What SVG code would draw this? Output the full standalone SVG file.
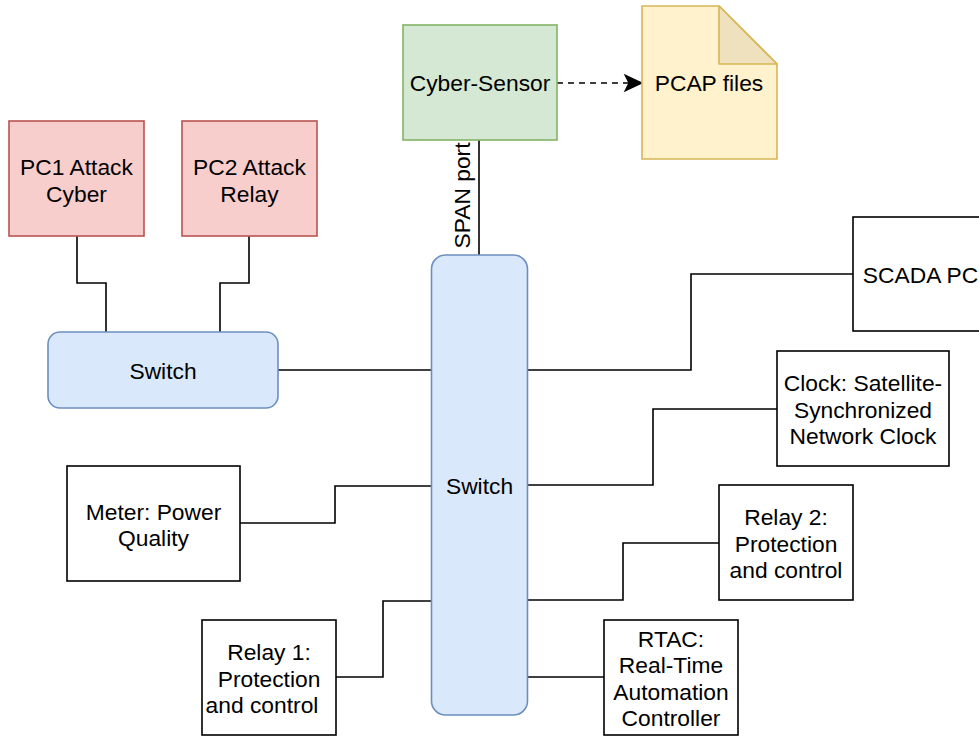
<svg xmlns="http://www.w3.org/2000/svg" width="979" height="737" viewBox="0 0 979 737">
<style>
text{font-family:"Liberation Sans",Arial,sans-serif;font-size:22.8px;fill:#000;text-anchor:middle}
.box{fill:#fff;stroke:#000;stroke-width:1.6}
.red{fill:#f8cecc;stroke:#b85450;stroke-width:1.6}
.green{fill:#d5e8d4;stroke:#82b366;stroke-width:1.6}
.blue{fill:#dae8fc;stroke:#6c8ebf;stroke-width:1.6}
.yellow{fill:#fff2cc;stroke:#d6b656;stroke-width:1.6}
.fold{fill:#efe1be;stroke:#d6b656;stroke-width:1.6;stroke-linejoin:round}
.line{fill:none;stroke:#000;stroke-width:1.6}
</style>
<rect width="979" height="737" fill="#fff"/>
<g id="connectors">
<path class="line" d="M77,236 V283 H106 V332"/>
<path class="line" d="M249,236 V283 H220 V332"/>
<path class="line" d="M278,370 H431"/>
<path class="line" d="M479,140 V255"/>
<path class="line" d="M528,370 H691 V274 H853"/>
<path class="line" d="M528,485 H653 V409 H777"/>
<path class="line" d="M240,523 H335 V486 H431"/>
<path class="line" d="M528,600 H623 V543 H719"/>
<path class="line" d="M336,677 H383 V601 H431"/>
<path class="line" d="M528,677 H604"/>
<path class="line" d="M557,83 H629" stroke-dasharray="6 5"/>
<path d="M642,83 L625,75 L629,83 L625,91 Z" fill="#000" stroke="#000" stroke-width="1.2" stroke-linejoin="miter"/>
<text transform="translate(470,195.5) rotate(-90)" x="0" y="0">SPAN port</text>
</g>
<g id="cyber-sensor">
<rect class="green" x="403" y="25" width="154" height="115"/>
<text x="480" y="91">Cyber-Sensor</text>
</g>
<g id="pcap-files">
<path class="yellow" d="M642,6 H719 L777,64 V159 H642 Z"/>
<path class="fold" d="M719,6 V64 H777 Z"/>
<text x="709" y="91">PCAP files</text>
</g>
<g id="pc1">
<rect class="red" x="9" y="121" width="135" height="115"/>
<text x="76.5" y="175">PC1 Attack</text>
<text x="76.5" y="201.5">Cyber</text>
</g>
<g id="pc2">
<rect class="red" x="182" y="121" width="135" height="115"/>
<text x="249.5" y="175">PC2 Attack</text>
<text x="249.5" y="201.5">Relay</text>
</g>
<g id="switch-small">
<rect class="blue" x="48" y="332" width="230" height="76" rx="12" ry="12"/>
<text x="163" y="379">Switch</text>
</g>
<g id="switch-main">
<rect class="blue" x="431.5" y="255" width="96" height="460" rx="14" ry="14"/>
<text x="479.5" y="494">Switch</text>
</g>
<g id="scada-pc">
<rect class="box" x="853" y="217" width="135" height="114"/>
<text x="920.5" y="283">SCADA PC</text>
</g>
<g id="clock">
<rect class="box" x="777" y="351" width="172" height="115"/>
<text x="863" y="391">Clock: Satellite-</text>
<text x="863" y="417.5">Synchronized</text>
<text x="863" y="444">Network Clock</text>
</g>
<g id="meter">
<rect class="box" x="67" y="466" width="173" height="115"/>
<text x="153.5" y="519.5">Meter: Power</text>
<text x="153.5" y="546">Quality</text>
</g>
<g id="relay2">
<rect class="box" x="719" y="485" width="134" height="115"/>
<text x="786" y="525">Relay 2:</text>
<text x="786" y="551.5">Protection</text>
<text x="786" y="578">and control</text>
</g>
<g id="relay1">
<rect class="box" x="202" y="620" width="134" height="115"/>
<text x="269" y="660">Relay 1:</text>
<text x="269" y="686.5">Protection</text>
<text x="262" y="713">and control</text>
</g>
<g id="rtac">
<rect class="box" x="604" y="620" width="134" height="115"/>
<text x="671" y="646.5">RTAC:</text>
<text x="671" y="673">Real-Time</text>
<text x="671" y="699.5">Automation</text>
<text x="671" y="726">Controller</text>
</g>
</svg>
